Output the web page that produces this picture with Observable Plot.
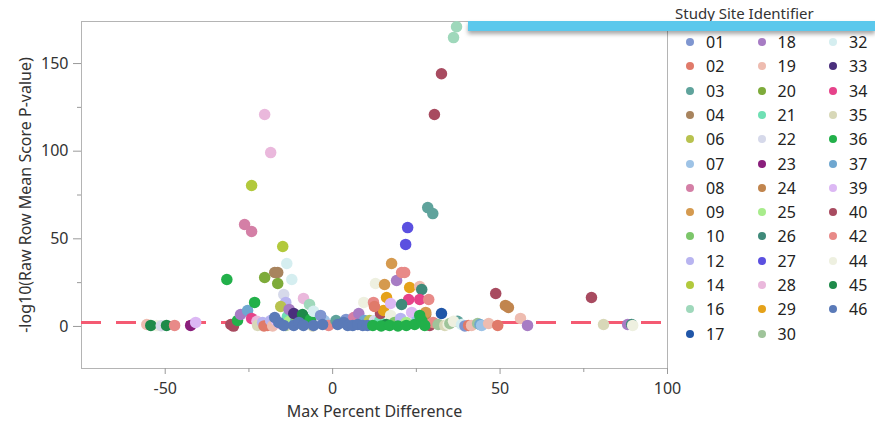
<!DOCTYPE html>
<html>
<head>
<meta charset="utf-8">
<script src="https://cdn.jsdelivr.net/npm/d3@7"></script>
<script src="https://cdn.jsdelivr.net/npm/@observablehq/plot@0.6"></script>
<style>
  body { margin: 0; background: #fff; }
  #wrap { position: relative; width: 875px; height: 421px; font-family: "Noto Sans", sans-serif; overflow: hidden; }
  #wrap svg { position: absolute; left: 0; top: 0; }
  #bar { position: absolute; left: 468px; top: 21px; width: 407px; height: 10px; background: #5bc8ec;
         box-shadow: 0 3px 4px rgba(0,0,0,0.35); }
  #legend-title { position: absolute; left: 675px; top: 4px; font-size: 15px; color: #333; line-height: 19px; white-space: nowrap; }
  .entry { position: absolute; height: 20px; line-height: 20px; font-size: 16px; color: #222; white-space: nowrap; }
  .entry i { position: absolute; left: 0; top: 6px; width: 8px; height: 8px; border-radius: 50%; }
  .entry span { position: absolute; left: 20px; top: 0; }
</style>
</head>
<body>
<div id="wrap">
  <div id="legend-title">Study Site Identifier</div>
</div>
<script>
// Study sites and their colours
const sites = ["01","02","03","04","06","07","08","09","10","12","14","16","17",
               "18","19","20","21","22","23","24","25","26","27","28","29","30",
               "32","33","34","35","36","37","39","40","42","44","45","46"];
const siteColors = ["#7f96d0","#e07a6a","#5fa39c","#a8845e","#b8c24f","#9ec3e6","#d47fa6","#d59a4f","#7cc66a","#b8b4f0","#b2c93c","#9fd8bb","#2056a8",
                    "#a77cc4","#eebcb0","#7eab3a","#6fe0b4","#d6d9ea","#8a1f7c","#c1854e","#a8ec8c","#3f8a7a","#5b50e0","#eab8dc","#e5a21a","#9fc49a",
                    "#d5eef0","#4a2f7c","#e6428a","#d8d8b8","#22b04a","#6fa7d0","#dcb8f4","#a84b60","#e88a88","#eef0e0","#1e8a4a","#5a7ab8"];

// [site, max percent difference, -log10(raw row mean score p-value)]
const observations = [
  // far left tail
  ["19", -55.5, 1.1], ["44", -52.6, 0.5], ["45", -54.3, 0.6], ["22", -51.2, 0.4], ["45", -49.6, 0.6],
  ["42", -47.2, 0.6], ["23", -42.4, 0.6], ["39", -40.9, 2.3],
  // left group, near zero
  ["40", -30.4, 1.1], ["40", -29.6, 0.2], ["36", -28.4, 3.4], ["18", -27.5, 6.8], ["37", -25.4, 9.1],
  ["34", -24.2, 4.6], ["28", -22.6, 2.9], ["22", -21.5, 1.1], ["35", -22.4, 0.6], ["12", -20.9, 2.3],
  ["02", -20.5, 0.3], ["02", -19.4, 0.6], ["12", -18.5, 3.4], ["19", -17.9, 0.3], ["39", -16.8, 3.4],
  ["28", -16.0, 1.7], ["30", -14.0, 0.6], ["21", -13.5, 5.7], ["35", -13.0, 1.1], ["25", -12.9, 2.9],
  ["37", -11.0, 3.4], ["10", -10.7, 4.6], ["16", -9.5, 1.7], ["21", -7.6, 3.4], ["35", -6.0, 0.3],
  ["22", -4.8, 2.3], ["07", -2.5, 3.4], ["42", -1.2, 0.6],
  // left group, raised
  ["14", -24.2, 80.4], ["28", -20.3, 120.9], ["28", -18.5, 99.2], ["08", -26.3, 58.2], ["08", -24.2, 54.2],
  ["14", -14.9, 45.6], ["32", -13.7, 35.9], ["32", -12.2, 26.8], ["04", -17.3, 30.8], ["04", -16.4, 30.8],
  ["20", -20.3, 27.9], ["20", -16.4, 24.5], ["36", -31.6, 26.8], ["36", -23.3, 13.7], ["22", -14.6, 18.2],
  ["28", -8.7, 16.0], ["12", -14.0, 13.7], ["06", -15.5, 11.4], ["16", -6.9, 12.5], ["18", -13.0, 9.7],
  ["33", -11.6, 7.4], ["45", -9.0, 6.8], ["36", -6.6, 4.0], ["32", -5.7, 8.6], ["01", -3.6, 6.3],
  // left group, site 46
  ["46", -17.3, 5.1], ["46", -16.1, 2.3], ["46", -14.6, 0.6], ["46", -11.6, 0.6], ["46", -10.1, 2.3],
  ["46", -8.7, 0.6], ["46", -5.7, 0.6], ["46", -3.0, 1.1],
  // right group, near zero
  ["03", 1.0, 3.4], ["01", 4.0, 4.0], ["08", 6.3, 5.1], ["18", 7.8, 7.4], ["37", 9.5, 3.4], ["06", 11.0, 3.4],
  ["22", 12.5, 3.4], ["21", 14.0, 2.9], ["40", 14.3, 7.4], ["29", 15.2, 9.1], ["44", 17.3, 6.3], ["10", 18.5, 2.3],
  ["12", 20.3, 4.6], ["25", 22.0, 2.3], ["39", 23.6, 8.0], ["07", 25.0, 2.9], ["24", 27.8, 6.8], ["09", 27.8, 8.0],
  ["40", 29.0, 0.6], ["42", 30.0, 2.3], ["30", 31.5, 1.1], ["17", 32.5, 7.4], ["35", 33.5, 0.6], ["44", 34.5, 1.1],
  ["30", 35.0, 1.7], ["03", 37.3, 2.9], ["44", 36.1, 2.9], ["32", 38.5, 1.1], ["01", 39.5, 0.3], ["02", 40.6, 0.6],
  ["19", 41.5, 0.6], ["30", 43.3, 1.7], ["37", 44.0, 1.1], ["07", 44.5, 0.6], ["19", 46.6, 1.7], ["02", 49.3, 0.6],
  ["19", 56.1, 4.6], ["18", 58.2, 0.6], ["35", 80.9, 1.1], ["18", 88.1, 1.1], ["26", 89.3, 1.1], ["44", 89.6, 0.6],
  // right group, raised
  ["27", 22.4, 56.4], ["27", 21.8, 46.8], ["03", 28.4, 67.8], ["03", 29.9, 64.4], ["40", 32.5, 144.2],
  ["40", 30.4, 120.9], ["16", 37.0, 171.0], ["16", 36.1, 164.8], ["09", 17.6, 35.9], ["18", 19.1, 26.2],
  ["42", 20.6, 30.8], ["42", 21.5, 30.8], ["44", 12.8, 24.5], ["09", 15.5, 23.9], ["29", 23.0, 22.2],
  ["19", 26.0, 22.8], ["26", 26.6, 21.1], ["29", 16.1, 16.5], ["34", 22.7, 15.4], ["34", 26.0, 15.4],
  ["42", 28.7, 15.4], ["44", 9.3, 13.7], ["42", 12.2, 13.7], ["02", 12.5, 11.4], ["39", 17.3, 13.1],
  ["26", 20.6, 12.5], ["40", 48.7, 18.8], ["24", 51.6, 12.0], ["24", 52.5, 10.8], ["40", 77.3, 16.5],
  // right group, sites 46 and 36
  ["46", 1.5, 1.1], ["46", 3.3, 2.3], ["46", 4.5, 0.6], ["46", 6.0, 0.6], ["46", 7.5, 1.1], ["46", 9.0, 0.6],
  ["46", 10.4, 0.6], ["45", 16.0, 1.1],
  ["36", 12.0, 0.6], ["36", 14.5, 0.3], ["36", 17.0, 0.6], ["36", 19.5, 0.3], ["36", 22.0, 0.6],
  ["36", 24.5, 1.1], ["36", 27.5, 0.6], ["36", 26.6, 3.4], ["36", 26.0, 6.3]
];

const xMajorTicks = [-50, 0, 50, 100];
const xMinorTicks = [-25, 25, 75];
const yMajorTicks = [0, 50, 100, 150];
const yMinorTicks = [25, 75, 125];
const significanceLine = 2.3;

const tickColor = "#9a9a9a";
const plain = d => String(d);

const chart = Plot.plot({
  width: 875,
  height: 421,
  marginLeft: 81,
  marginRight: 208,
  marginTop: 21,
  marginBottom: 53,
  style: { fontFamily: "Noto Sans, sans-serif", fontSize: "16px", color: "#333", background: "transparent" },
  x: { domain: [-75, 100] },
  y: { domain: [-24, 174] },
  color: { domain: sites, range: siteColors },
  marks: [
    Plot.frame({ stroke: "#b4b4b4" }),
    Plot.axisX({ ticks: xMajorTicks, tickSize: 6, tickPadding: 8, tickFormat: plain, stroke: tickColor, fill: "#333",
                 label: "Max Percent Difference", labelAnchor: "center", labelArrow: "none", labelOffset: 48 }),
    Plot.axisX({ ticks: xMinorTicks, tickSize: 4, stroke: tickColor, tickFormat: () => "", label: null }),
    Plot.axisY({ ticks: yMajorTicks, tickSize: 8, tickPadding: 5, tickFormat: plain, stroke: tickColor, fill: "#333",
                 label: "-log10(Raw Row Mean Score P-value)", labelAnchor: "center", labelArrow: "none", labelOffset: 62 }),
    Plot.axisY({ ticks: yMinorTicks, tickSize: 4, stroke: tickColor, tickFormat: () => "", label: null }),
    Plot.ruleY([significanceLine], { stroke: "#f45a72", strokeWidth: 3, strokeDasharray: "20,15" }),
    Plot.dot(observations, { x: d => d[1], y: d => d[2], fill: d => d[0], r: 5.75, clip: false })
  ]
});

const wrap = document.getElementById("wrap");
wrap.insertBefore(chart, wrap.firstChild);

// panel header bar
const bar = document.createElement("div");
bar.id = "bar";
wrap.appendChild(bar);

// legend: three columns, filled top to bottom
const rows = 13, colLeft = 686, colStep = 71.5, rowTop = 32, rowStep = 24.3;
sites.forEach((s, i) => {
  const col = Math.floor(i / rows), row = i % rows;
  const e = document.createElement("div");
  e.className = "entry";
  e.style.left = (colLeft + col * colStep) + "px";
  e.style.top = (rowTop + row * rowStep) + "px";
  e.innerHTML = `<i style="background:${siteColors[i]}"></i><span>${s}</span>`;
  wrap.appendChild(e);
});
</script>
</body>
</html>
